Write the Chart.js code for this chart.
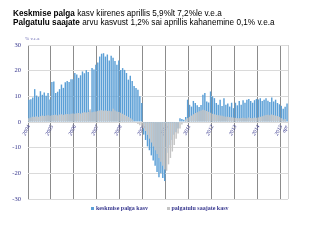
<!DOCTYPE html>
<html>
<head>
<meta charset="utf-8">
<script src="https://cdn.jsdelivr.net/npm/chart.js@4/dist/chart.umd.min.js"></script>
<style>
  body { margin: 0; background: #fff; }
  #wrap { position: relative; width: 320px; height: 243px; overflow: hidden; }
  #graafik { position: absolute; left: 0; top: 0; }
  .pealkiri { position: absolute; left: 13px; font-family: "Liberation Sans", Arial, sans-serif; font-size: 8.2px; line-height: 8.5px; color: #000; white-space: nowrap; }
  #yhik { position: absolute; left: 25px; top: 36px; font-family: "Liberation Serif", serif; font-size: 5px; color: #6a6ab4; }
  #legend { position: absolute; left: 0; width: 320px; top: 205px; text-align: center; font-family: "Liberation Serif", serif; font-size: 6px; font-weight: bold; color: #3a3a90; white-space: nowrap; }
  #legend .kast { display: inline-block; width: 3px; height: 3px; margin-right: 1.5px; vertical-align: 0.5px; }
</style>
</head>
<body>
<div id="wrap">
  <canvas id="graafik" width="320" height="243"></canvas>
  <div class="pealkiri" style="top:10px"><b>Keskmise palga</b> kasv kiirenes aprillis 5,9%lt 7,2%le v.e.a</div>
  <div class="pealkiri" style="top:18.5px"><b>Palgatulu saajate</b> arvu kasvust 1,2% sai aprillis kahanemine 0,1% v.e.a</div>
  <div id="yhik">% v.e.a</div>
  <div id="legend">
    <span class="kast" style="background:#5b9fd6"></span>keskmise palga kasv
    <span style="display:inline-block;width:16px"></span>
    <span class="kast" style="background:#c4c4c4"></span>palgatulu saajate kasv
  </div>
</div>
<script>
// --- ANDMED ---
const aastad = ['2004', '2005', '2006', '2007', '2008', '2009', '2010', '2011', '2012', '2013', '2014', '2015'];
const kuudViimasel = 4; // 2015: jaan-apr

// keskmise palga kasv, % v.e.a (kuud)
const keskmisePalgaKasv = [
  8.7, 8.9, 9.5, 12.8, 10.3, 9.8, 12.0, 10.6, 11.5, 10.2, 11.3, 8.8,
  15.6, 15.8, 11.3, 11.8, 12.8, 14.6, 13.3, 15.5, 16.0, 15.6, 16.7, 16.7,
  19.1, 18.5, 17.2, 18.2, 19.7, 19.0, 20.2, 19.5, 4.5, 21.0, 20.5, 22.3,
  23.2, 25.5, 26.6, 26.8, 25.5, 26.3, 24.0, 25.8, 25.0, 23.8, 22.3, 24.0,
  20.3, 21.0, 20.3, 19.1, 16.5, 18.0, 16.0, 14.0, 13.2, 12.6, 10.0, 7.4,
  -4.9, -7.0, -9.5, -11.0, -13.0, -15.0, -17.0, -19.5, -21.5, -20.0, -21.8, -23.0,
  -12.0, -10.0, -9.0, -7.0, -5.0, -4.0, -2.5, 1.5, 1.2, 0.9, 1.9, 8.7,
  6.7, 6.0, 8.2, 7.4, 6.5, 5.8, 6.6, 10.6, 11.3, 8.0, 7.6, 11.9,
  10.0, 9.3, 7.4, 6.7, 8.7, 6.2, 9.3, 6.7, 7.2, 6.0, 7.5, 5.4,
  7.5, 6.5, 8.2, 6.7, 8.5, 7.5, 8.7, 9.0, 8.2, 7.5, 8.5, 9.0,
  8.8, 9.3, 8.2, 8.7, 9.3, 8.3, 7.8, 9.5, 8.0, 8.7, 7.4, 6.9,
  6.3, 5.2, 5.9, 7.2
];

// palgatulu saajate arvu kasv, % v.e.a
const palgatuluSaajateKasv = [
  1.5, 1.8, 2.0, 2.0, 2.2, 2.0, 2.3, 2.5, 2.3, 2.5, 2.6, 2.4,
  2.6, 2.7, 2.8, 2.6, 2.9, 3.0, 2.8, 3.0, 3.1, 3.0, 3.2, 3.3,
  3.2, 3.4, 3.5, 3.3, 3.6, 3.8, 3.7, 3.9, 5.0, 3.8, 4.0, 4.1,
  4.3, 4.5, 4.6, 4.4, 4.5, 4.3, 4.4, 4.2, 5.2, 4.5, 4.1, 3.9,
  3.6, 3.2, 2.8, 2.4, 2.0, 1.5, 1.0, 0.4, -0.3, -0.8, -1.3, -1.8,
  -2.5, -3.5, -5.0, -6.5, -8.0, -9.5, -11.0, -12.5, -14.0, -15.5, -17.0, -18.5,
  -19.0, -16.5, -14.0, -11.5, -9.0, -6.5, -4.5, -2.5, -1.0, 0.2, 1.0, 1.5,
  2.0, 2.5, 3.0, 3.5, 3.8, 4.2, 4.5, 4.8, 4.6, 4.3, 4.0, 3.6,
  3.2, 3.0, 2.8, 2.6, 2.5, 2.4, 2.2, 2.0, 2.0, 1.9, 1.8, 1.7,
  1.6, 1.5, 1.5, 1.6, 1.7, 1.6, 1.5, 1.8, 1.6, 1.5, 1.7, 1.6,
  1.8, 2.0, 2.2, 2.5, 2.7, 2.8, 2.6, 2.9, 2.7, 2.5, 2.3, 2.0,
  1.5, 1.0, 1.2, -0.1
];

const yTikid = [-30, -20, -10, 0, 10, 20, 30];

// kuude sildid (aasta + kuu nr)
const kuud = [];
aastad.forEach((a, ai) => {
  const n = ai === aastad.length - 1 ? kuudViimasel : 12;
  for (let k = 1; k <= n; k++) kuud.push(a + '-' + k);
});

function teljeSilt(i) {
  const [a, k] = kuud[i].split('-');
  if (k === '1') return a;
  if (i === kuud.length - 1) return 'apr';
  return '';
}

const tekstiVarv = '#35358c';

new Chart(document.getElementById('graafik'), {
  type: 'bar',
  data: {
    labels: kuud,
    datasets: [
      {
        label: 'keskmise palga kasv',
        data: keskmisePalgaKasv,
        backgroundColor: '#5b9fd6',
        order: 2
      },
      {
        label: 'palgatulu saajate kasv',
        data: palgatuluSaajateKasv,
        backgroundColor: '#c4c4c4',
        order: 1
      }
    ]
  },
  options: {
    responsive: false,
    animation: false,
    layout: { padding: { left: 0, top: 45, right: 32, bottom: 44 } },
    datasets: { bar: { grouped: false, barPercentage: 0.75, categoryPercentage: 1, borderWidth: 0 } },
    plugins: { legend: { display: false }, tooltip: { enabled: false } },
    scales: {
      x: {
        type: 'category',
        position: { y: 0 },
        offset: true,
        z: 1,
        border: { display: false },
        grid: {
          offset: true,
          drawTicks: false,
          lineWidth: 1,
          color: ctx => {
            if (ctx.type !== 'tick') return '#d0d0d0';
            return kuud[ctx.index].endsWith('-1') ? '#8c8c8c' : 'rgba(0,0,0,0)';
          }
        },
        ticks: {
          autoSkip: false,
          minRotation: 63,
          maxRotation: 63,
          padding: 2,
          color: tekstiVarv,
          font: { family: 'Liberation Serif', size: 5.5, style: 'italic' },
          callback: (v, i) => teljeSilt(i)
        }
      },
      y: {
        min: yTikid[0],
        max: yTikid[yTikid.length - 1],
        afterFit: s => { s.width = 28; },
        afterBuildTicks: s => { s.ticks = yTikid.map(v => ({ value: v })); },
        border: { display: false },
        grid: { color: '#dadada', drawTicks: false },
        ticks: {
          padding: 7,
          color: tekstiVarv,
          font: { family: 'Liberation Serif', size: 6.5 }
        }
      }
    }
  }
});
</script>
</body>
</html>
